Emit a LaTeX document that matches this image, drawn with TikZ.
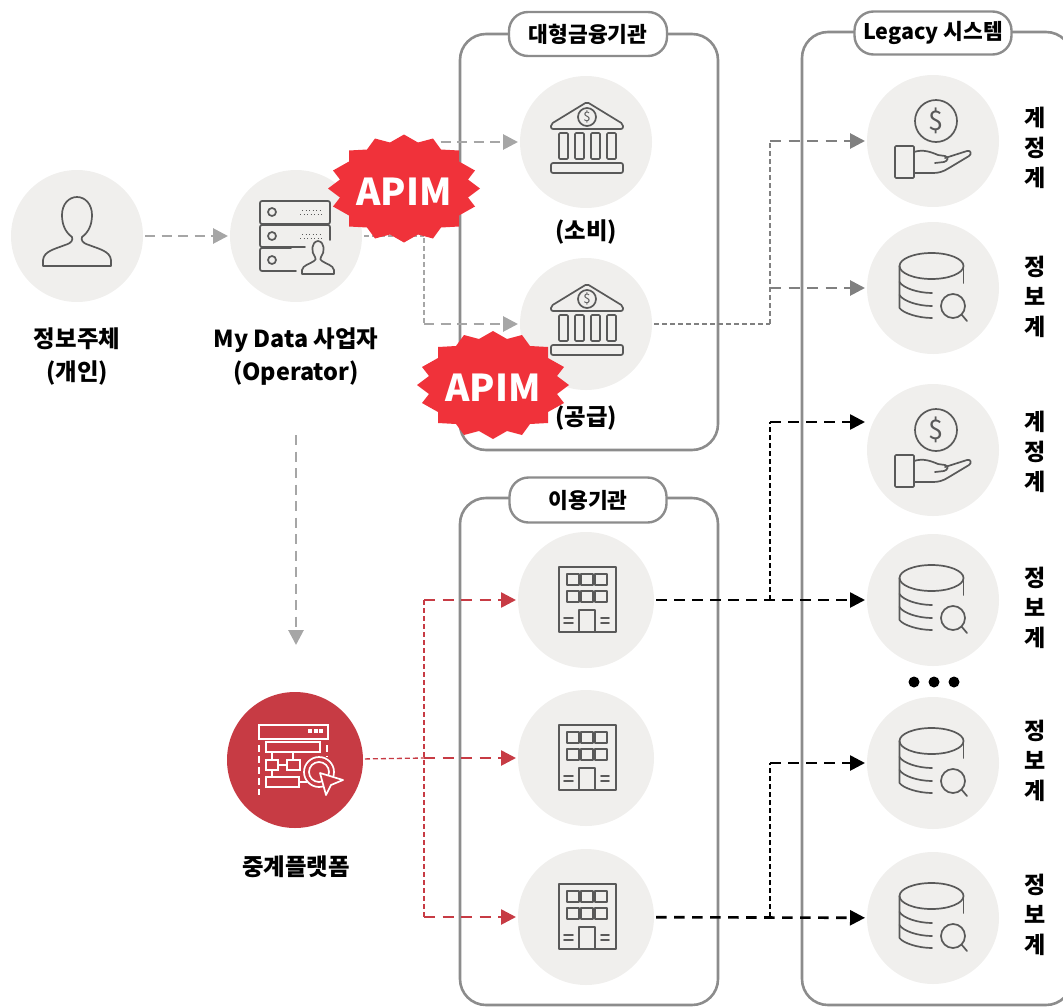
\documentclass[tikz,border=0pt]{standalone}
\usepackage{fontspec}
\usepackage{tikz}
\usetikzlibrary{calc}
\usetikzlibrary{arrows.meta}
\setmainfont{Noto Sans CJK KR}

\definecolor{panelgray}{HTML}{8C8C8C}
\definecolor{bubblegray}{HTML}{F0EFED}
\definecolor{icongray}{HTML}{595959}
\definecolor{linklight}{HTML}{A6A6A6}
\definecolor{linkdark}{HTML}{808080}
\definecolor{platred}{HTML}{C73B44}
\definecolor{apimred}{HTML}{F0323A}

\tikzset{
    panel/.style={draw=panelgray, line width=2.6pt, rounded corners=26pt},
    pill/.style={draw=panelgray, line width=2.4pt, fill=white, rounded corners=19pt, inner sep=0pt, font=\fontsize{21.5}{25}\selectfont\bfseries},
    bubble/.style={circle, fill=bubblegray, inner sep=0pt, outer sep=2pt, minimum size=132pt},
    caption/.style={align=center, font=\fontsize{23.4}{33}\selectfont\bfseries},
    sidelabel/.style={align=center, font=\fontsize{23}{30}\selectfont\bfseries},
    iconline/.style={draw=icongray, line width=1.7pt, line cap=round, line join=round},
    whiteline/.style={draw=white, line width=1.7pt},
    bigtip/.style={-{Triangle[length=15pt,width=15pt]}},
    midtip/.style={-{Triangle[length=15pt,width=15pt]}},
    graylink/.style={draw=linklight, line width=2.8pt, dash pattern=on 10pt off 6.5pt},
    darklink/.style={draw=linkdark, line width=2.8pt, dash pattern=on 11pt off 7.5pt},
    thinlink/.style={line width=1.3pt, dash pattern=on 5pt off 3pt},
    redlink/.style={draw=platred, line width=2.6pt, dash pattern=on 11pt off 7.5pt},
    blacklink/.style={draw=black, line width=2.6pt, dash pattern=on 10.5pt off 7.5pt},
    pics/usericon/.style={code={
        \draw[iconline] (-34,30) -- (34,30) -- (34,24) .. controls (33,15) and (22,13) .. (12,9)
            .. controls (5,7) and (4,4) .. (5,1) .. controls (12,-4) and (15,-12) .. (15,-21)
            .. controls (15,-32) and (8,-39) .. (0,-39) .. controls (-8,-39) and (-15,-32) .. (-15,-21)
            .. controls (-15,-12) and (-12,-4) .. (-5,1) .. controls (-4,4) and (-5,7) .. (-12,9)
            .. controls (-22,13) and (-33,15) .. (-34,24) -- cycle;
    }},
    pics/servericon/.style={code={
        \draw[iconline, rounded corners=2pt] (-36,-35) rectangle (34,-12);
        \draw[iconline, rounded corners=2pt] (9,11) -- (-36,11) -- (-36,-11) -- (34,-11) -- (34,4);
        \draw[iconline, rounded corners=2pt] (0,35) -- (-36,35) -- (-36,12) -- (-5,12);
        \foreach \rowy in {-24,0,24} \draw[iconline] (-24,\rowy) circle (4);
        \foreach \rowy in {-24,0} {
            \draw[icongray, line width=1pt, dash pattern=on 1pt off 2.5pt] (6,\rowy-2) -- (27,\rowy-2);
            \draw[icongray, line width=1pt, dash pattern=on 1pt off 2.5pt] (4,\rowy+2) -- (27,\rowy+2);
        }
        \draw[iconline, fill=bubblegray] (6,38) -- (38,38) -- (38,34) .. controls (37,29) and (30,28) .. (26,25)
            .. controls (24,24) and (24,23) .. (25,21) .. controls (29,16) and (29,6) .. (22,5)
            .. controls (15,6) and (15,16) .. (19,21) .. controls (20,23) and (20,24) .. (18,25)
            .. controls (14,28) and (7,29) .. (6,34) -- cycle;
    }},
    pics/bankicon/.style={code={
        \draw[iconline, rounded corners=2pt] (1,-40) -- (37,-18) -- (37,-13) -- (-35,-13) -- (-35,-18) -- cycle;
        \draw[iconline] (1,-25) circle (9);
        \node[inner sep=0pt, text=icongray, font=\fontsize{13}{13}\selectfont] (-sign) at (1,-25) {\$};
        \foreach \colx in {-27,-11,5,21} \draw[iconline, rounded corners=1pt] (\colx,-9) rectangle (\colx+9,17);
        \draw[iconline, rounded corners=2pt] (-35,21) rectangle (37,31);
    }},
    pics/officeicon/.style={code={
        \draw[iconline] (-27,-33) rectangle (30,32);
        \foreach \winy in {-26,-9} \foreach \winx in {-19,-5,9} \draw[iconline] (\winx,\winy) rectangle (\winx+12,\winy+11);
        \draw[iconline] (-7,32) -- (-7,10) -- (9,10) -- (9,32);
        \foreach \liney in {18,23} {
            \draw[iconline] (-22,\liney) -- (-13,\liney);
            \draw[iconline] (15,\liney) -- (23,\liney);
        }
    }},
    pics/handicon/.style={code={
        \draw[iconline] (3,-20) circle (21);
        \node[inner sep=0pt, text=icongray, font=\fontsize{27}{27}\selectfont] (-sign) at (3,-20) {\$};
        \draw[iconline, rounded corners=1pt] (-38,5) rectangle (-19,37);
        \draw[iconline] (-19,11) .. controls (-10,8) and (-2,11) .. (5,14) -- (12,15) .. controls (16,16) and (15,20) .. (11,21) -- (2,22);
        \draw[iconline] (12,17) -- (34,10) .. controls (38,9) and (39,13) .. (36,15) -- (16,27) .. controls (10,31) and (5,32) .. (0,32) -- (-19,32);
    }},
    pics/dbicon/.style={code={
        \draw[iconline] (-1.5,-22) ellipse (32 and 13);
        \draw[iconline] (-33.5,-22) -- (-33.5,20) .. controls (-30,25) and (-15,30) .. (-1,30);
        \draw[iconline] (30.5,-22) -- (30.5,-5);
        \draw[iconline] (-33.5,-6) .. controls (-30,0) and (-15,5) .. (-1,5);
        \draw[iconline] (-33.5,7) .. controls (-30,13) and (-15,18) .. (-1,18);
        \draw[iconline] (20,18) circle (12);
        \draw[iconline] (28.5,26.5) -- (34,33);
    }},
    pics/platicon/.style={code={
        \draw[whiteline] (-36,-21) rectangle (33,-35);
        \foreach \dotx in {15,21,26} \fill[white] (\dotx-2,-31) rectangle (\dotx+2,-27);
        \draw[whiteline, dash pattern=on 7pt off 4pt] (-36,-15) -- (-36,35);
        \draw[whiteline, dash pattern=on 7pt off 4pt] (32,-15) -- (32,-3);
        \draw[whiteline] (-29,-18) rectangle (25,-8);
        \draw[whiteline] (-29,0) rectangle (-17,10);
        \draw[whiteline] (-8,0) rectangle (5,10);
        \draw[whiteline] (-29,17) rectangle (4,27);
        \draw[whiteline] (-23,-8) -- (-23,0) (-23,10) -- (-23,17) (-2,-8) -- (-2,0) (-17,5) -- (-8,5) (4,22) -- (12,22);
        \draw[whiteline, fill=platred] (24,12) circle (15);
        \draw[whiteline] (24,12) circle (10);
        \draw[whiteline, fill=platred, line join=round] (25,13) -- (48,20) -- (36,25) -- (31,35) -- cycle;
    }},
    pics/apimburst/.style={code={
        \fill[apimred] (0,-54) -- (14,-46) -- (29,-50) -- (37,-39) -- (55,-38) -- (55,-27) -- (71,-18) -- (64,-9) -- (76,0)
            -- (64,9) -- (71,18) -- (55,27) -- (55,38) -- (37,39) -- (29,50) -- (14,46) -- (0,54)
            -- (-14,46) -- (-29,50) -- (-37,39) -- (-55,38) -- (-55,27) -- (-71,18) -- (-64,9) -- (-76,0)
            -- (-64,-9) -- (-71,-18) -- (-55,-27) -- (-55,-38) -- (-37,-39) -- (-29,-50) -- (-14,-46) -- cycle;
        \node[text=white, inner sep=0pt, font=\fontsize{37}{37}\selectfont\bfseries] (-text) at (0,3) {APIM};
    }},
}

\begin{document}
\begin{tikzpicture}[x=1pt, y=-1pt]
    \useasboundingbox (0,0) rectangle (1063,1007);

    % Drawing the panels
    \draw[panel] (460,34) rectangle (718,450);
    \draw[panel] (460,498) rectangle (718,1005);
    \draw[panel] (802,32) rectangle (1072,1005);

    % Marking the panel titles
    \node[pill, minimum width=158pt, minimum height=44pt] (bigtitle) at (588,34) {대형금융기관};
    \node[pill, minimum width=157pt, minimum height=43pt] (legacytitle) at (933,33) {Legacy 시스템};
    \node[pill, minimum width=157pt, minimum height=45pt] (usertitle) at (588,500) {이용기관};

    % Marking the left hand circles
    \node[bubble] (person) at (77,236) {};
    \node[bubble] (operator) at (296,236) {};
    \node[bubble, fill=platred, minimum size=136pt] (platform) at (295,760) {};
    \pic at (person) {usericon};
    \pic at (operator) {servericon};
    \pic at (platform) {platicon};

    % Marking the big institution circles
    \node[bubble] (bankA) at (586,142) {};
    \node[bubble] (bankB) at (586,324) {};
    \pic (iconA) at (bankA) {bankicon};
    \pic (iconB) at (bankB) {bankicon};

    % Marking the user institution circles
    \node[bubble, minimum size=136pt] (officeA) at (586,600) {};
    \node[bubble, minimum size=136pt] (officeB) at (586,758) {};
    \node[bubble, minimum size=136pt] (officeC) at (586,917) {};
    \foreach \office in {officeA,officeB,officeC}
        \pic at (\office) {officeicon};

    % Marking the legacy circles
    \node[bubble] (legacyA) at (933,141) {};
    \node[bubble] (legacyB) at (933,288) {};
    \node[bubble] (legacyC) at (933,450) {};
    \node[bubble] (legacyD) at (933,600) {};
    \node[bubble] (legacyE) at (933,763) {};
    \node[bubble] (legacyF) at (933,918) {};
    \pic (handA) at (legacyA) {handicon};
    \pic (handC) at (legacyC) {handicon};
    \foreach \legacy in {legacyB,legacyD,legacyE,legacyF}
        \pic at (\legacy) {dbicon};

    % Marking the captions
    \node[caption] (personlabel) at (77,356.5) {정보주체\\(개인)};
    \node[caption] (operatorlabel) at (296,356.5) {My Data 사업자\\(Operator)};
    \node[caption] (platformlabel) at (296,866.5) {중계플랫폼};
    \node[caption] (bankAlabel) at (586,232) {(소비)};
    \node[caption] (bankBlabel) at (586,418) {(공급)};
    \node[sidelabel] (sideA) at (1035,148) {계\\정\\계};
    \node[sidelabel] (sideB) at (1035,297) {정\\보\\계};
    \node[sidelabel] (sideC) at (1035,452) {계\\정\\계};
    \node[sidelabel] (sideD) at (1035,608) {정\\보\\계};
    \node[sidelabel] (sideE) at (1035,761) {정\\보\\계};
    \node[sidelabel] (sideF) at (1035,915) {정\\보\\계};

    % Marking the three dots
    \foreach \dotx/\dotname in {914/dotA,934/dotB,954/dotC}
        \fill (\dotx,682) circle (5.5) coordinate (\dotname);

    % Marking the junctions
    \coordinate (opsplit) at (424,236);
    \coordinate (opup) at (424,142);
    \coordinate (opdown) at (424,324);
    \coordinate (opbelow) at (296,435);
    \coordinate (opgoal) at (296,645);
    \coordinate (bankbus) at (770,324);
    \coordinate (bankbusA) at (770,141);
    \coordinate (bankbusB) at (770,288);
    \coordinate (redsplit) at (424,758);
    \coordinate (redup) at (424,600);
    \coordinate (reddown) at (424,917);
    \coordinate (blackA) at (770,600);
    \coordinate (blackAup) at (770,422);
    \coordinate (blackC) at (770,917);
    \coordinate (blackCup) at (770,763);

    % Drawing the gray links
    \draw[graylink, bigtip] (person) -- (operator);
    \draw[linklight, thinlink] (operator) -- (opsplit);
    \draw[linklight, thinlink] (opup) -- (opdown);
    \draw[graylink, bigtip] (opup) -- (bankA);
    \draw[graylink, bigtip] (opdown) -- (bankB);
    \draw[graylink, bigtip] (opbelow) -- (opgoal);

    % Drawing the links to the legacy circles
    \draw[linkdark, thinlink] (bankB) -- (bankbus);
    \draw[linkdark, thinlink] (bankbus) -- (bankbusA);
    \draw[darklink, midtip] (bankbusA) -- (legacyA);
    \draw[darklink, midtip] (bankbusB) -- (legacyB);

    % Drawing the red links
    \draw[platred, thinlink] (platform) -- (redsplit);
    \draw[platred, thinlink] (redup) -- (reddown);
    \draw[redlink, midtip] (redup) -- (officeA);
    \draw[redlink, midtip] (redsplit) -- (officeB);
    \draw[redlink, midtip] (reddown) -- (officeC);

    % Drawing the black links
    \draw[blacklink, midtip] (officeA) -- (legacyD);
    \draw[black, line width=1.4pt, dash pattern=on 5pt off 3pt] (blackA) -- (blackAup);
    \draw[blacklink, midtip] (blackAup) -- (blackAup -| legacyC.west);
    \draw[blacklink, midtip] (officeC) -- (legacyF);
    \draw[black, line width=1.4pt, dash pattern=on 5pt off 3pt] (blackC) -- (blackCup);
    \draw[blacklink, midtip] (blackCup) -- (legacyE);

    % Marking the APIM bursts
    \pic (apimA) at (404,188.5) {apimburst};
    \pic (apimB) at (493,385) {apimburst};
\end{tikzpicture}
\end{document}
